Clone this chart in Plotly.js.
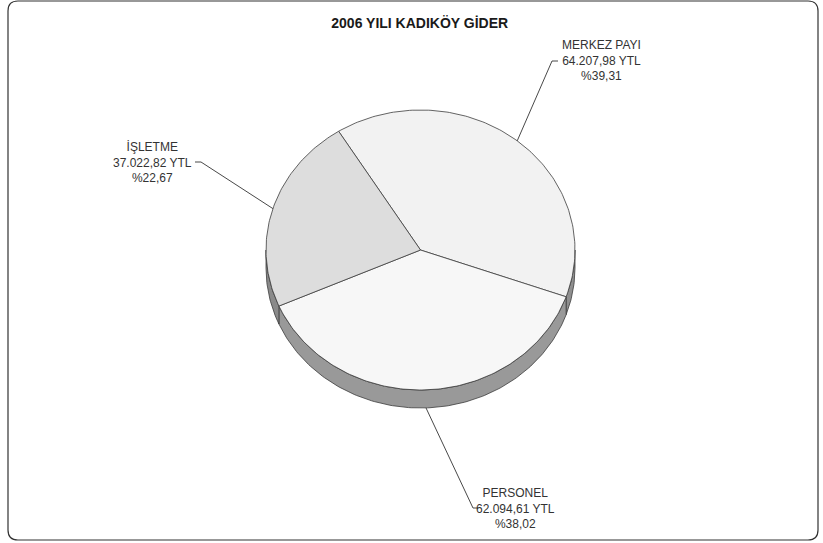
<!DOCTYPE html>
<html><head><meta charset="utf-8">
<script src="https://cdn.plot.ly/plotly-3.0.1.min.js"></script>
<style>html,body{margin:0;padding:0;background:#fff}#chart{width:823px;height:543px}</style>
</head><body><div id="chart"></div>
<script>
// ---- data ----
const categories = ["MERKEZ PAYI", "PERSONEL", "İŞLETME"];
const values = [64207.98, 62094.61, 37022.82];
const currency = "YTL";
const chartTitle = "2006 YILI KADIKÖY GİDER";

// ---- styles ----
const topColors = ["#f2f2f2", "#f7f7f7", "#dddddd"];
const wallColors = ["#8f8f8f", "#999999", "#8a8a8a"];
const edge = "#3c3c3c";

// ---- geometry (pixel layout) ----
const W = 823, H = 543;
const cx = 420.5, cy = 250, rx = 154.5, ry = 140, depth = 18, startDeg = -32;
// label placement: [textX, textMidY, elbowX, elbowY, endX]
const labelPos = [
  [601, 60, 552, 61, 558],
  [515, 508, 473, 508, 478],
  [152, 162, 201, 162, 195]
];

function pt(deg, dy) {
  const r = deg * Math.PI / 180;
  return [cx + rx * Math.sin(r), cy - ry * Math.cos(r) + (dy || 0)];
}
function arc(a, b, dy) {
  const pts = [];
  const n = Math.max(2, Math.ceil(Math.abs(b - a)));
  for (let i = 0; i <= n; i++) pts.push(pt(a + (b - a) * i / n, dy));
  return pts;
}
function fmt(v) {
  const s = v.toFixed(2).split(".");
  return s[0].replace(/\B(?=(\d{3})+(?!\d))/g, ".") + "," + s[1];
}

const total = values.reduce((a, b) => a + b, 0);
const traces = [];
const tops = [];
const annotations = [];
let cum = 0;
values.forEach((v, i) => {
  const a0 = startDeg + cum / total * 360;
  cum += v;
  const a1 = startDeg + cum / total * 360;
  // visible wall (front half: 90..270)
  const lo = Math.max(a0, 90), hi = Math.min(a1, 270);
  if (hi > lo) {
    const p = arc(lo, hi, 0).concat(arc(hi, lo, depth));
    p.push(p[0]);
    traces.push({
      type: "scatter", mode: "lines", fill: "toself",
      x: p.map(q => q[0]), y: p.map(q => q[1]),
      fillcolor: wallColors[i], line: {color: edge, width: 0.8},
      hoverinfo: "skip", showlegend: false
    });
  }
  const t = [[cx, cy]].concat(arc(a0, a1, 0));
  t.push([cx, cy]);
  tops.push({
    type: "scatter", mode: "lines", fill: "toself",
    x: t.map(q => q[0]), y: t.map(q => q[1]),
    fillcolor: topColors[i], line: {color: edge, width: 0.8},
    hoverinfo: "skip", showlegend: false
  });
  // leader line
  const mid = (a0 + a1) / 2;
  const m = ((mid % 360) + 360) % 360;
  const anchor = pt(mid, (m > 90 && m < 270) ? depth : 0);
  const L = labelPos[i];
  tops.push({
    type: "scatter", mode: "lines",
    x: [anchor[0], L[2], L[4]], y: [anchor[1], L[3], L[3]],
    line: {color: "#333333", width: 0.9},
    hoverinfo: "skip", showlegend: false
  });
  const pct = (v / total * 100).toFixed(2).replace(".", ",");
  annotations.push({
    x: L[0], y: L[1], xref: "x", yref: "y",
    text: categories[i] + "<br>" + fmt(v) + " " + currency + "<br>%" + pct,
    showarrow: false, align: "center", xanchor: "center", yanchor: "middle",
    font: {family: "Liberation Sans, Arial, sans-serif", size: 12, color: "#333333"}
  });
});

const layout = {
  width: W, height: H,
  margin: {l: 0, r: 0, t: 0, b: 0},
  paper_bgcolor: "#ffffff", plot_bgcolor: "#ffffff",
  xaxis: {range: [0, W], visible: false, fixedrange: true},
  yaxis: {range: [H, 0], visible: false, fixedrange: true},
  showlegend: false,
  title: {
    text: chartTitle, x: 0.51, xanchor: "center", y: 1 - 23 / H, yanchor: "middle",
    yref: "container",
    font: {family: "Liberation Sans, Arial, sans-serif", size: 14, weight: 700, color: "#1a1a1a"}
  },
  annotations: annotations,
  shapes: [{
    type: "path", xref: "x", yref: "y",
    path: "M 18,1 L 808,1 Q 818,1 818,11 L 818,530 Q 818,540 808,540 L 18,540 Q 8,540 8,530 L 8,11 Q 8,1 18,1 Z",
    line: {color: "#333333", width: 1.2}
  }]
};

Plotly.newPlot("chart", traces.concat(tops), layout, {staticPlot: true, displayModeBar: false});
</script></body></html>
